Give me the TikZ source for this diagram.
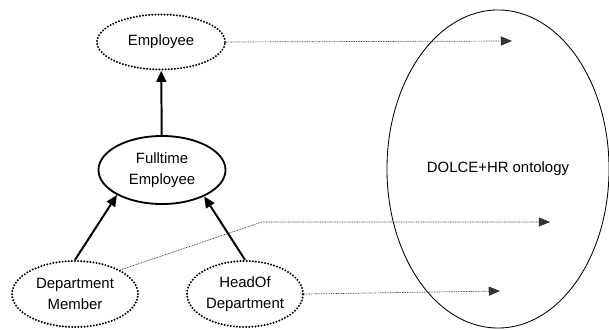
\documentclass[tikz,border=0pt]{standalone}
\usepackage{fontspec}
\setmainfont{Liberation Sans}
\usetikzlibrary{shapes.geometric,arrows.meta}

\begin{document}
\begin{tikzpicture}[x=0.025cm,y=-0.025cm,
  concept/.style={ellipse,draw,line width=1.3pt,inner sep=0pt,align=center,font=\fontsize{10.6}{15}\selectfont},
  dotconcept/.style={concept,dash pattern=on 0pt off 2.2pt,line cap=round,line width=1.6pt},
  isa/.style={line width=1.4pt,-{Triangle[length=8pt,width=7pt]}},
  mapto/.style={dash pattern=on 0.6pt off 0.6pt,line width=0.5pt,black!80,-{Triangle[length=8pt,width=6.5pt]}}]
\useasboundingbox (0,0) rectangle (609,329);
\node[dotconcept,minimum width=3.2cm,minimum height=1.375cm] (emp) at (161,42) {Employee};
\node[concept,minimum width=3.175cm,minimum height=1.7cm] (full) at (162,170) {Fulltime\\Employee};
\node[dotconcept,minimum width=3.15cm,minimum height=1.65cm] (dept) at (75,294) {Department\\Member};
\node[dotconcept,minimum width=2.9cm,minimum height=1.65cm] (head) at (245,294) {HeadOf\\Department};
\node[concept,line width=0.6pt,minimum width=5.55cm,minimum height=7.95cm] (dolce) at (498,169) {DOLCE+HR ontology};
% mappings into the ontology
\coordinate (empTip) at (512,41);
\coordinate (bend) at (262,222);
\coordinate (deptTip) at (550,222);
\coordinate (headTip) at (500,291);
\draw[mapto] (emp.east) -- (empTip);
\draw[mapto] (dept.28) -- (bend) -- (deptTip);
\draw[mapto] (head.east) -- (headTip);
% subclass links
\draw[isa] (full) -- (emp);
\draw[isa] (dept.north) -- (full.209);
\draw[isa] (head.north) -- (full.328);
\end{tikzpicture}
\end{document}
